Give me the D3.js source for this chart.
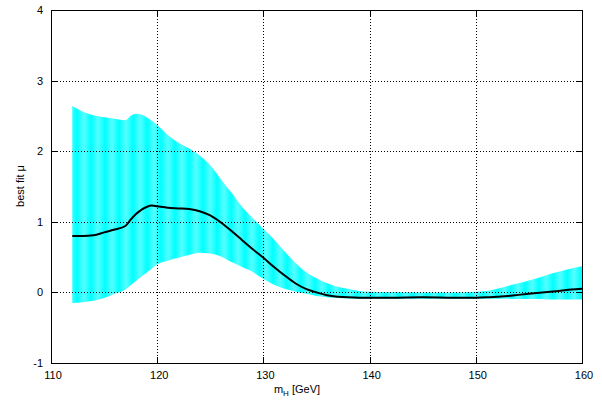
<!DOCTYPE html>
<html><head><meta charset="utf-8">
<script src="https://cdn.jsdelivr.net/npm/d3@7"></script>
<style>body{margin:0;background:#fff}text{font-family:"Liberation Sans",Arial,sans-serif}</style>
</head><body><svg id="c" width="602" height="404"></svg>
<script>
const mass = [112,113,114,115,116,117,117.5,118,118.5,119,119.5,120,121,122,123,124,125,126,127,128,129,130,131,132,133,134,135,136,137,138,139,140,142,145,148,150,151,152,153,154,155,156,157,158,159,160];
const upper = [2.64,2.56,2.51,2.48,2.46,2.44,2.50,2.53,2.52,2.48,2.43,2.37,2.23,2.12,2.04,1.94,1.80,1.60,1.41,1.21,1.05,0.90,0.75,0.58,0.42,0.29,0.20,0.13,0.08,0.05,0.02,0.01,0.005,0.0,0.0,0.01,0.02,0.05,0.09,0.13,0.17,0.21,0.26,0.30,0.34,0.37];
const lower = [-0.15,-0.14,-0.12,-0.08,-0.02,0.04,0.10,0.16,0.22,0.28,0.34,0.40,0.45,0.49,0.53,0.56,0.55,0.51,0.43,0.36,0.29,0.19,0.11,0.05,0.01,-0.02,-0.05,-0.07,-0.08,-0.085,-0.09,-0.09,-0.09,-0.09,-0.09,-0.09,-0.09,-0.09,-0.09,-0.095,-0.095,-0.095,-0.10,-0.10,-0.10,-0.10];
const central = [0.80,0.80,0.81,0.85,0.89,0.94,1.03,1.11,1.17,1.21,1.23,1.22,1.20,1.19,1.18,1.15,1.09,0.99,0.87,0.74,0.61,0.49,0.36,0.24,0.13,0.05,0.0,-0.04,-0.06,-0.07,-0.075,-0.075,-0.075,-0.07,-0.075,-0.075,-0.07,-0.06,-0.05,-0.035,-0.02,-0.005,0.01,0.025,0.04,0.05];
const xTicks = [110,120,130,140,150,160];
const yTicks = [-1,0,1,2,3,4];

const L=51,R=582,T=10,B=363;
const svg=d3.select("#c");
const x=d3.scaleLinear().domain([110,160]).range([L,R]);
const y=d3.scaleLinear().domain([-1,4]).range([B,T]);

const defs=svg.append("defs");
const pat=defs.append("pattern").attr("id","stripes").attr("patternUnits","userSpaceOnUse").attr("width",14).attr("height",10);
const g=defs.append("linearGradient").attr("id","sg");
g.append("stop").attr("offset","0%").attr("stop-color","#55ffff");
g.append("stop").attr("offset","50%").attr("stop-color","#00ffff");
g.append("stop").attr("offset","100%").attr("stop-color","#55ffff");
pat.append("rect").attr("width",14).attr("height",10).attr("fill","url(#sg)");

const data=mass.map((m,i)=>({m,u:upper[i],l:lower[i],c:central[i]}));
svg.append("path").datum(data).attr("fill","url(#stripes)")
  .attr("d",d3.area().x(d=>x(d.m)).y0(d=>y(d.l)).y1(d=>y(d.u)).curve(d3.curveMonotoneX));

// grid
const grid=svg.append("g").attr("stroke","#000").attr("stroke-width",1).attr("stroke-dasharray","1,2").attr("shape-rendering","crispEdges");
xTicks.slice(1,-1).forEach(t=>grid.append("line").attr("x1",Math.round(x(t))+0.5).attr("x2",Math.round(x(t))+0.5).attr("y1",T).attr("y2",B));
yTicks.slice(1,-1).forEach(t=>grid.append("line").attr("x1",L).attr("x2",R).attr("y1",Math.round(y(t))+0.5).attr("y2",Math.round(y(t))+0.5));

svg.append("path").datum(data).attr("fill","none").attr("stroke","#000").attr("stroke-width",2)
  .attr("d",d3.line().x(d=>x(d.m)).y(d=>y(d.c)).curve(d3.curveMonotoneX));

// ticks
const tk=svg.append("g").attr("stroke","#000").attr("shape-rendering","crispEdges");
yTicks.forEach(t=>{const yy=Math.round(y(t))+0.5;
  tk.append("line").attr("x1",L).attr("x2",L+6).attr("y1",yy).attr("y2",yy);
  tk.append("line").attr("x1",R-6).attr("x2",R).attr("y1",yy).attr("y2",yy);});
xTicks.forEach(t=>{const xx=Math.round(x(t))+0.5;
  tk.append("line").attr("x1",xx).attr("x2",xx).attr("y1",B-6).attr("y2",B);
  tk.append("line").attr("x1",xx).attr("x2",xx).attr("y1",T).attr("y2",T+6);});
svg.append("rect").attr("x",L+0.5).attr("y",T+0.5).attr("width",R-L).attr("height",B-T).attr("fill","none").attr("stroke","#000").attr("shape-rendering","crispEdges");

// labels
yTicks.forEach(t=>svg.append("text").attr("x",L-8).attr("y",y(t)+4).attr("text-anchor","end").attr("font-size",11).text(t));
xTicks.forEach(t=>svg.append("text").attr("x",x(t)+2).attr("y",B+16).attr("text-anchor","middle").attr("font-size",11).text(t));
const xl=svg.append("text").attr("x",297).attr("y",393).attr("text-anchor","middle").attr("font-size",11);
xl.append("tspan").text("m");
xl.append("tspan").attr("font-size",8).attr("dy",3).text("H");
xl.append("tspan").attr("dy",-3).text(" [GeV]");
svg.append("text").attr("transform","translate(24,186) rotate(-90)").attr("text-anchor","middle").attr("font-size",11).text("best fit μ");
</script></body></html>
